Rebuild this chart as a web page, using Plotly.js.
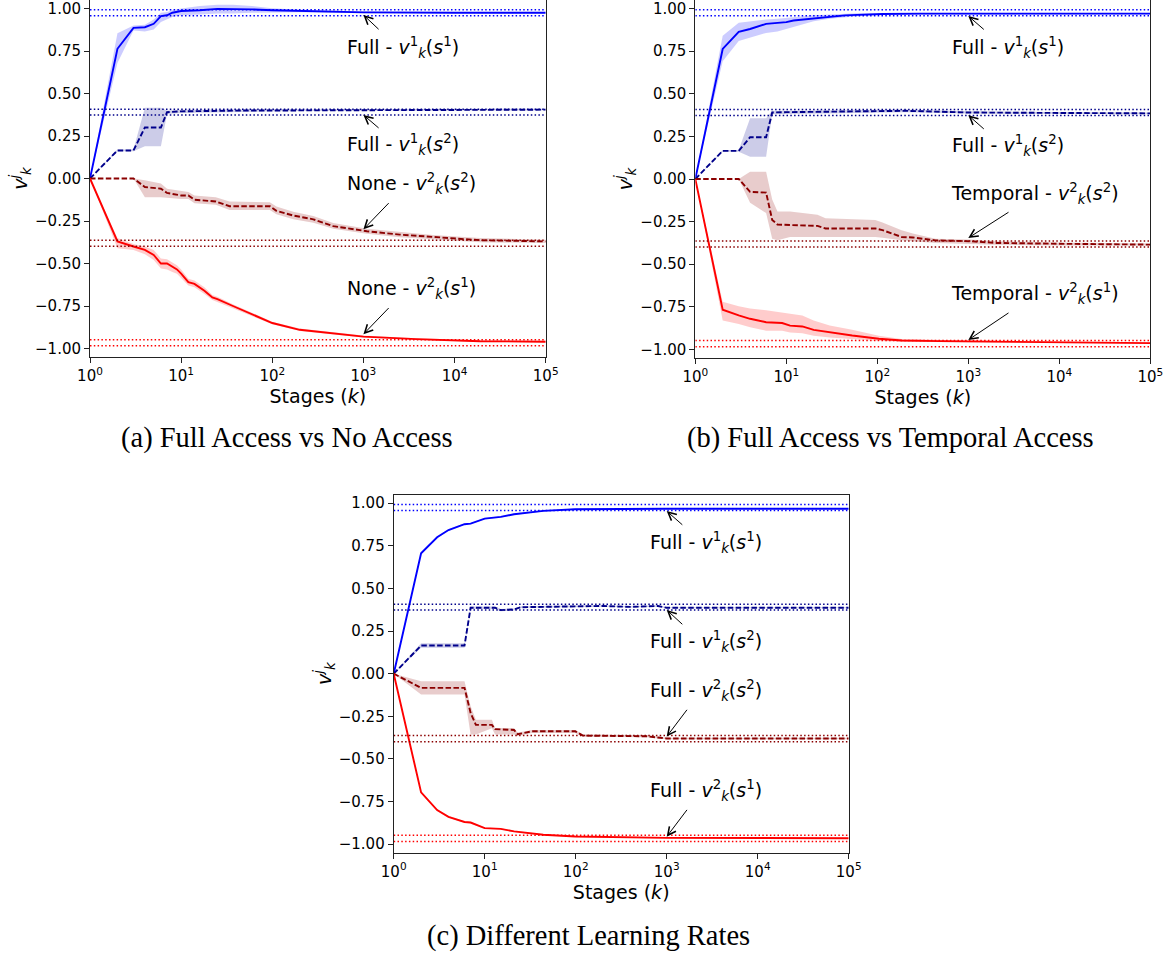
<!DOCTYPE html>
<html><head><meta charset="utf-8">
<script src="https://cdn.plot.ly/plotly-3.0.1.min.js"></script>
<style>html,body{margin:0;padding:0;background:#fff}#chart{width:1173px;height:955px}</style>
</head><body><div id="chart"></div>
<script>
// ---------- shared axis ticks ----------
const xTickVals = [1, 10, 100, 1000, 10000, 100000];
const xTickText = ['10<sup>0</sup>', '10<sup>1</sup>', '10<sup>2</sup>', '10<sup>3</sup>', '10<sup>4</sup>', '10<sup>5</sup>'];
const yTickVals = [-1, -0.75, -0.5, -0.25, 0, 0.25, 0.5, 0.75, 1];
const yTickText = ['\u22121.00', '\u22120.75', '\u22120.50', '\u22120.25', '0.00', '0.25', '0.50', '0.75', '1.00'];
const stageSpan = [1, 100000];

// reference (dotted) levels
const refV1S1 = [0.993, 0.958];
const refV1S2 = [0.408, 0.373];
const refV2S2 = [-0.363, -0.399];
const refV2S1 = [-0.948, -0.984];

// ---------- panel (a) ----------
const aV1S1_k    = [1, 2, 3, 4, 5, 6, 7, 8, 10, 13, 16, 25, 37, 60, 100, 200, 460, 1000, 10000, 100000];
const aV1S1_mean = [0, 0.763, 0.886, 0.89, 0.91, 0.955, 0.96, 0.975, 0.985, 0.987, 0.99, 0.998, 0.998, 0.995, 0.99, 0.985, 0.98, 0.977, 0.975, 0.975];
const aV1S1_lo   = [0, 0.68, 0.87, 0.865, 0.876, 0.92, 0.935, 0.95, 0.96, 0.962, 0.965, 0.97, 0.97, 0.975, 0.978, 0.978, 0.975, 0.972, 0.971, 0.971];
const aV1S1_hi   = [0, 0.855, 0.90, 0.905, 0.935, 0.975, 0.98, 0.99, 1.0, 1.008, 1.015, 1.022, 1.022, 1.015, 1.002, 0.992, 0.985, 0.982, 0.979, 0.979];

const aV1S2_k    = [1, 2, 3, 4, 6, 7, 10, 20, 50, 100, 1000, 10000, 100000];
const aV1S2_mean = [0, 0.165, 0.165, 0.30, 0.30, 0.39, 0.395, 0.398, 0.40, 0.40, 0.403, 0.405, 0.405];
const aV1S2_lo   = [0, 0.16, 0.16, 0.19, 0.19, 0.38, 0.385, 0.39, 0.393, 0.395, 0.398, 0.40, 0.40];
const aV1S2_hi   = [0, 0.17, 0.17, 0.416, 0.416, 0.40, 0.405, 0.406, 0.407, 0.406, 0.408, 0.41, 0.41];

const aV2S2_k    = [1, 2, 3, 4, 6, 7, 10, 12, 14, 24, 34, 94, 111, 170, 282, 466, 1090, 2500, 5800, 19000, 100000];
const aV2S2_mean = [0, 0, 0, -0.05, -0.06, -0.085, -0.10, -0.10, -0.125, -0.135, -0.163, -0.163, -0.19, -0.218, -0.24, -0.28, -0.31, -0.33, -0.345, -0.363, -0.37];
const aV2S2_lo   = [0, 0, 0, -0.11, -0.11, -0.115, -0.12, -0.12, -0.145, -0.155, -0.185, -0.185, -0.21, -0.24, -0.26, -0.295, -0.325, -0.345, -0.358, -0.375, -0.38];
const aV2S2_hi   = [0, 0, 0, -0.01, -0.03, -0.06, -0.075, -0.08, -0.10, -0.11, -0.135, -0.14, -0.165, -0.195, -0.22, -0.262, -0.295, -0.315, -0.332, -0.35, -0.36];

const aV2S1_k    = [1, 2, 3, 4, 5, 6, 7, 8, 9, 10, 12, 14, 18, 22, 25, 37, 60, 100, 200, 466, 1000, 3800, 19000, 100000];
const aV2S1_mean = [0, -0.37, -0.40, -0.42, -0.45, -0.50, -0.50, -0.52, -0.535, -0.56, -0.61, -0.62, -0.66, -0.70, -0.71, -0.75, -0.80, -0.85, -0.89, -0.91, -0.93, -0.945, -0.957, -0.96];
const aV2S1_lo   = [0, -0.41, -0.42, -0.445, -0.48, -0.53, -0.535, -0.55, -0.56, -0.585, -0.63, -0.64, -0.68, -0.715, -0.725, -0.76, -0.81, -0.858, -0.897, -0.917, -0.936, -0.95, -0.962, -0.965];
const aV2S1_hi   = [0, -0.35, -0.385, -0.40, -0.42, -0.47, -0.475, -0.495, -0.51, -0.535, -0.59, -0.60, -0.64, -0.685, -0.695, -0.74, -0.79, -0.842, -0.883, -0.903, -0.924, -0.94, -0.952, -0.955];

// ---------- panel (b) ----------
const bV1S1_k    = [1, 2, 3, 4, 6, 8, 10, 12, 15, 20, 30, 44, 60, 114, 300, 1000, 10000, 100000];
const bV1S1_mean = [0, 0.763, 0.863, 0.88, 0.91, 0.915, 0.92, 0.93, 0.935, 0.945, 0.953, 0.96, 0.963, 0.968, 0.97, 0.97, 0.97, 0.97];
const bV1S1_lo   = [0, 0.69, 0.81, 0.83, 0.857, 0.865, 0.88, 0.89, 0.905, 0.925, 0.94, 0.95, 0.955, 0.963, 0.967, 0.967, 0.967, 0.967];
const bV1S1_hi   = [0, 0.84, 0.916, 0.925, 0.935, 0.94, 0.945, 0.95, 0.955, 0.96, 0.965, 0.97, 0.972, 0.973, 0.973, 0.973, 0.973, 0.973];

const bV1S2_k    = [1, 2, 3, 4, 6, 7, 10, 30, 100, 200, 1000, 10000, 100000];
const bV1S2_mean = [0, 0.165, 0.165, 0.245, 0.245, 0.39, 0.392, 0.395, 0.398, 0.40, 0.39, 0.387, 0.385];
const bV1S2_lo   = [0, 0.16, 0.16, 0.13, 0.13, 0.38, 0.385, 0.388, 0.39, 0.392, 0.384, 0.382, 0.38];
const bV1S2_hi   = [0, 0.17, 0.17, 0.357, 0.357, 0.40, 0.40, 0.402, 0.405, 0.407, 0.397, 0.392, 0.39];

const bV2S2_k    = [1, 2, 3, 4, 6, 7, 8, 11, 22, 27, 95, 114, 185, 246, 436, 1040, 2000, 10000, 100000];
const bV2S2_mean = [0, 0, 0, -0.075, -0.08, -0.24, -0.267, -0.27, -0.275, -0.29, -0.29, -0.30, -0.34, -0.343, -0.36, -0.365, -0.375, -0.38, -0.385];
const bV2S2_lo   = [0, 0, 0, -0.14, -0.20, -0.35, -0.36, -0.34, -0.34, -0.34, -0.34, -0.345, -0.36, -0.365, -0.375, -0.38, -0.385, -0.39, -0.39];
const bV2S2_hi   = [0, 0, 0, 0.043, 0.043, -0.12, -0.19, -0.19, -0.21, -0.23, -0.24, -0.255, -0.30, -0.32, -0.35, -0.355, -0.365, -0.372, -0.378];

const bV2S1_k    = [1, 2, 3, 4, 6, 9, 11, 15, 20, 30, 53, 104, 185, 480, 1000, 10000, 100000];
const bV2S1_mean = [0, -0.767, -0.80, -0.82, -0.84, -0.845, -0.86, -0.865, -0.885, -0.90, -0.918, -0.937, -0.947, -0.951, -0.953, -0.96, -0.963];
const bV2S1_lo   = [0, -0.83, -0.85, -0.87, -0.89, -0.89, -0.90, -0.905, -0.92, -0.93, -0.94, -0.95, -0.955, -0.957, -0.958, -0.964, -0.967];
const bV2S1_hi   = [0, -0.72, -0.747, -0.76, -0.77, -0.785, -0.79, -0.80, -0.83, -0.86, -0.885, -0.92, -0.938, -0.945, -0.948, -0.956, -0.959];

// ---------- panel (c) ----------
const cV1S1_k    = [1, 2, 3, 4, 6, 7, 10, 15, 21, 44, 99, 1000, 100000];
const cV1S1_mean = [0, 0.706, 0.80, 0.843, 0.877, 0.88, 0.91, 0.92, 0.935, 0.955, 0.965, 0.968, 0.968];
const cV1S1_lo   = [0, 0.70, 0.795, 0.838, 0.872, 0.876, 0.906, 0.916, 0.931, 0.952, 0.962, 0.965, 0.965];
const cV1S1_hi   = [0, 0.712, 0.805, 0.848, 0.882, 0.884, 0.914, 0.924, 0.939, 0.958, 0.968, 0.971, 0.971];

const cV1S2_k    = [1, 2, 6, 7, 13, 15, 21, 25, 100, 200, 400, 800, 1000, 100000];
const cV1S2_mean = [0, 0.165, 0.165, 0.387, 0.387, 0.373, 0.377, 0.39, 0.395, 0.397, 0.392, 0.397, 0.387, 0.387];
const cV1S2_lo   = [0, 0.152, 0.152, 0.38, 0.38, 0.367, 0.371, 0.385, 0.39, 0.392, 0.388, 0.393, 0.384, 0.384];
const cV1S2_hi   = [0, 0.178, 0.178, 0.394, 0.394, 0.379, 0.383, 0.395, 0.40, 0.402, 0.396, 0.401, 0.39, 0.39];

const cV2S2_k    = [1, 2, 6, 7, 8, 12, 13, 21, 23, 33, 99, 120, 600, 1000, 100000];
const cV2S2_mean = [0, -0.083, -0.083, -0.23, -0.30, -0.30, -0.325, -0.33, -0.355, -0.338, -0.338, -0.363, -0.367, -0.38, -0.38];
const cV2S2_lo   = [0, -0.122, -0.122, -0.357, -0.357, -0.32, -0.357, -0.357, -0.365, -0.348, -0.348, -0.37, -0.373, -0.385, -0.385];
const cV2S2_hi   = [0, -0.044, -0.044, -0.19, -0.27, -0.27, -0.318, -0.318, -0.345, -0.33, -0.33, -0.356, -0.36, -0.375, -0.375];

const cV2S1_k    = [1, 2, 3, 4, 6, 7, 10, 15, 21, 44, 99, 1000, 100000];
const cV2S1_mean = [0, -0.696, -0.80, -0.84, -0.87, -0.873, -0.906, -0.91, -0.925, -0.945, -0.955, -0.963, -0.965];
const cV2S1_lo   = [0, -0.702, -0.805, -0.845, -0.875, -0.878, -0.91, -0.914, -0.929, -0.948, -0.958, -0.966, -0.968];
const cV2S1_hi   = [0, -0.69, -0.795, -0.835, -0.865, -0.868, -0.902, -0.906, -0.921, -0.942, -0.952, -0.96, -0.962];

// ---------- labels ----------
const aLabels = ['Full - <i>v</i><sup>1</sup><sub><i>k</i></sub>(<i>s</i><sup>1</sup>)',
                 'Full - <i>v</i><sup>1</sup><sub><i>k</i></sub>(<i>s</i><sup>2</sup>)',
                 'None - <i>v</i><sup>2</sup><sub><i>k</i></sub>(<i>s</i><sup>2</sup>)',
                 'None - <i>v</i><sup>2</sup><sub><i>k</i></sub>(<i>s</i><sup>1</sup>)'];
const bLabels = ['Full - <i>v</i><sup>1</sup><sub><i>k</i></sub>(<i>s</i><sup>1</sup>)',
                 'Full - <i>v</i><sup>1</sup><sub><i>k</i></sub>(<i>s</i><sup>2</sup>)',
                 'Temporal - <i>v</i><sup>2</sup><sub><i>k</i></sub>(<i>s</i><sup>2</sup>)',
                 'Temporal - <i>v</i><sup>2</sup><sub><i>k</i></sub>(<i>s</i><sup>1</sup>)'];
const cLabels = ['Full - <i>v</i><sup>1</sup><sub><i>k</i></sub>(<i>s</i><sup>1</sup>)',
                 'Full - <i>v</i><sup>1</sup><sub><i>k</i></sub>(<i>s</i><sup>2</sup>)',
                 'Full - <i>v</i><sup>2</sup><sub><i>k</i></sub>(<i>s</i><sup>2</sup>)',
                 'Full - <i>v</i><sup>2</sup><sub><i>k</i></sub>(<i>s</i><sup>1</sup>)'];
const captions = ['(a) Full Access vs No Access', '(b) Full Access vs Temporal Access', '(c) Different Learning Rates'];
const xTitle = 'Stages (<i>k</i>)';
const yTitle = '<i>v</i><sup><i>j</i></sup><sub><i>k</i></sub>';

// ---------- styling ----------
const W = 1173, H = 955;
const FONT = 'DejaVu Sans';
const styles = [
  {color: '#0000ff', fill: 'rgba(0,0,255,0.2)', dash: 'solid'},
  {color: '#00008b', fill: 'rgba(0,0,139,0.2)', dash: '5.5px,2.4px'},
  {color: '#8b0000', fill: 'rgba(139,0,0,0.2)', dash: '5.5px,2.4px'},
  {color: '#ff0000', fill: 'rgba(255,0,0,0.2)', dash: 'solid'}
];
const refSets = [refV1S1, refV1S2, refV2S2, refV2S1];

const panels = [
  {xa: 'x', ya: 'y', series: [[aV1S1_k, aV1S1_mean, aV1S1_lo, aV1S1_hi], [aV1S2_k, aV1S2_mean, aV1S2_lo, aV1S2_hi], [aV2S2_k, aV2S2_mean, aV2S2_lo, aV2S2_hi], [aV2S1_k, aV2S1_mean, aV2S1_lo, aV2S1_hi]],
   px: [90, 545.7], py: [0, 357], labels: aLabels,
   labelPos: [[345, 47], [345, 144], [345, 184], [345, 288]],
   heads: [[0.962, 16.7, 15.7], [0.374, 16.7, 14.3], [-0.299, 26.7, -27.7], [-0.916, 26.7, -27.7]],
   cap: [287, 438]},
  {xa: 'x2', ya: 'y2', series: [[bV1S1_k, bV1S1_mean, bV1S1_lo, bV1S1_hi], [bV1S2_k, bV1S2_mean, bV1S2_lo, bV1S2_hi], [bV2S2_k, bV2S2_mean, bV2S2_lo, bV2S2_hi], [bV2S1_k, bV2S1_mean, bV2S1_lo, bV2S1_hi]],
   px: [695.3, 1150.3], py: [0, 358], labels: bLabels,
   labelPos: [[950, 47], [950, 146], [949, 193], [949, 293]],
   heads: [[0.956, 17, 14.7], [0.374, 17, 15], [-0.346, 41.7, -26.7], [-0.944, 41.7, -28]],
   cap: [890, 438]},
  {xa: 'x3', ya: 'y3', series: [[cV1S1_k, cV1S1_mean, cV1S1_lo, cV1S1_hi], [cV1S2_k, cV1S2_mean, cV1S2_lo, cV1S2_hi], [cV2S2_k, cV2S2_mean, cV2S2_lo, cV2S2_hi], [cV2S1_k, cV2S1_mean, cV2S1_lo, cV2S1_hi]],
   px: [393.7, 848.7], py: [494.7, 852.7], labels: cLabels,
   labelPos: [[648.5, 542.7], [648.5, 641.7], [648.5, 690.7], [648.5, 790.7]],
   heads: [[0.954, 17.1, 15], [0.374, 17.1, 15.7], [-0.369, 21.4, -28.3], [-0.956, 21.4, -28.3]],
   cap: [588, 936]}
];

const traces = [];
const annotations = [];
const layout = {
  width: W, height: H,
  margin: {l: 0, r: 0, t: 0, b: 0},
  paper_bgcolor: '#fff', plot_bgcolor: '#fff',
  showlegend: false,
  font: {family: FONT, color: '#000'},
  annotations: annotations
};

panels.forEach((p, pi) => {
  p.series.forEach((s, si) => {
    const [k, m, lo, hi] = s;
    const st = styles[si];
    traces.push({
      x: k.concat(k.slice().reverse()),
      y: hi.concat(lo.slice().reverse()),
      xaxis: p.xa, yaxis: p.ya, type: 'scatter', mode: 'lines',
      fill: 'toself', fillcolor: st.fill, line: {width: 0, color: 'rgba(0,0,0,0)'},
      hoverinfo: 'skip'
    });
  });
  p.series.forEach((s, si) => {
    const [k, m] = s;
    const st = styles[si];
    traces.push({
      x: k, y: m, xaxis: p.xa, yaxis: p.ya, type: 'scatter', mode: 'lines',
      line: {color: st.color, width: 1.9, dash: st.dash}
    });
  });
  refSets.forEach((lv, si) => {
    lv.forEach(v => {
      traces.push({
        x: stageSpan, y: [v, v], xaxis: p.xa, yaxis: p.ya, type: 'scatter', mode: 'lines',
        line: {color: styles[si].color, width: 1.5, dash: '1.5px,2.3px'}
      });
    });
  });

  const suffix = pi === 0 ? '' : String(pi + 1);
  layout['xaxis' + suffix] = {
    type: 'log', range: [0, 5],
    domain: [p.px[0] / W, p.px[1] / W],
    anchor: p.ya,
    tickmode: 'array', tickvals: xTickVals, ticktext: xTickText,
    ticks: 'outside', ticklen: 5, tickwidth: 1, tickcolor: '#222',
    showline: true, mirror: true, linecolor: '#222', linewidth: 1,
    showgrid: false, zeroline: false,
    tickfont: {family: FONT, size: 15, color: '#000'},
    ticklabeloverflow: 'allow',
    title: {text: xTitle, font: {family: FONT, size: 19, color: '#000'}, standoff: 4},
    automargin: false
  };
  layout['yaxis' + suffix] = {
    range: [-1.05, 1.05],
    domain: [1 - p.py[1] / H, 1 - p.py[0] / H],
    anchor: p.xa,
    tickmode: 'array', tickvals: yTickVals, ticktext: yTickText,
    ticks: 'outside', ticklen: 5, tickwidth: 1, tickcolor: '#222',
    showline: true, mirror: true, linecolor: '#222', linewidth: 1,
    showgrid: false, zeroline: false,
    tickfont: {family: FONT, size: 15, color: '#000'},
    ticklabeloverflow: 'allow',
    title: {text: yTitle, font: {family: FONT, size: 19, color: '#000'}, standoff: 2},
    automargin: false
  };

  p.labels.forEach((t, i) => {
    annotations.push({
      xref: 'paper', yref: 'paper', x: p.labelPos[i][0] / W, y: 1 - p.labelPos[i][1] / H,
      xanchor: 'left', yanchor: 'middle', text: t, showarrow: false,
      font: {family: FONT, size: 19, color: '#000'}
    });
    const h = p.heads[i];
    annotations.push({
      xref: p.xa, yref: p.ya, x: Math.log10(xTickVals[3]), y: h[0],
      ax: h[1], ay: h[2], text: '', showarrow: true,
      arrowhead: 5, arrowsize: 1.6, arrowwidth: 1, arrowcolor: '#000', standoff: 0
    });
  });
  annotations.push({
    xref: 'paper', yref: 'paper', x: p.cap[0] / W, y: 1 - p.cap[1] / H,
    xanchor: 'center', yanchor: 'middle', text: captions[pi], showarrow: false,
    font: {family: 'Liberation Serif', size: 28.5, color: '#000'}
  });
});

Plotly.newPlot('chart', traces, layout, {staticPlot: true, displayModeBar: false});
</script>
</body></html>
